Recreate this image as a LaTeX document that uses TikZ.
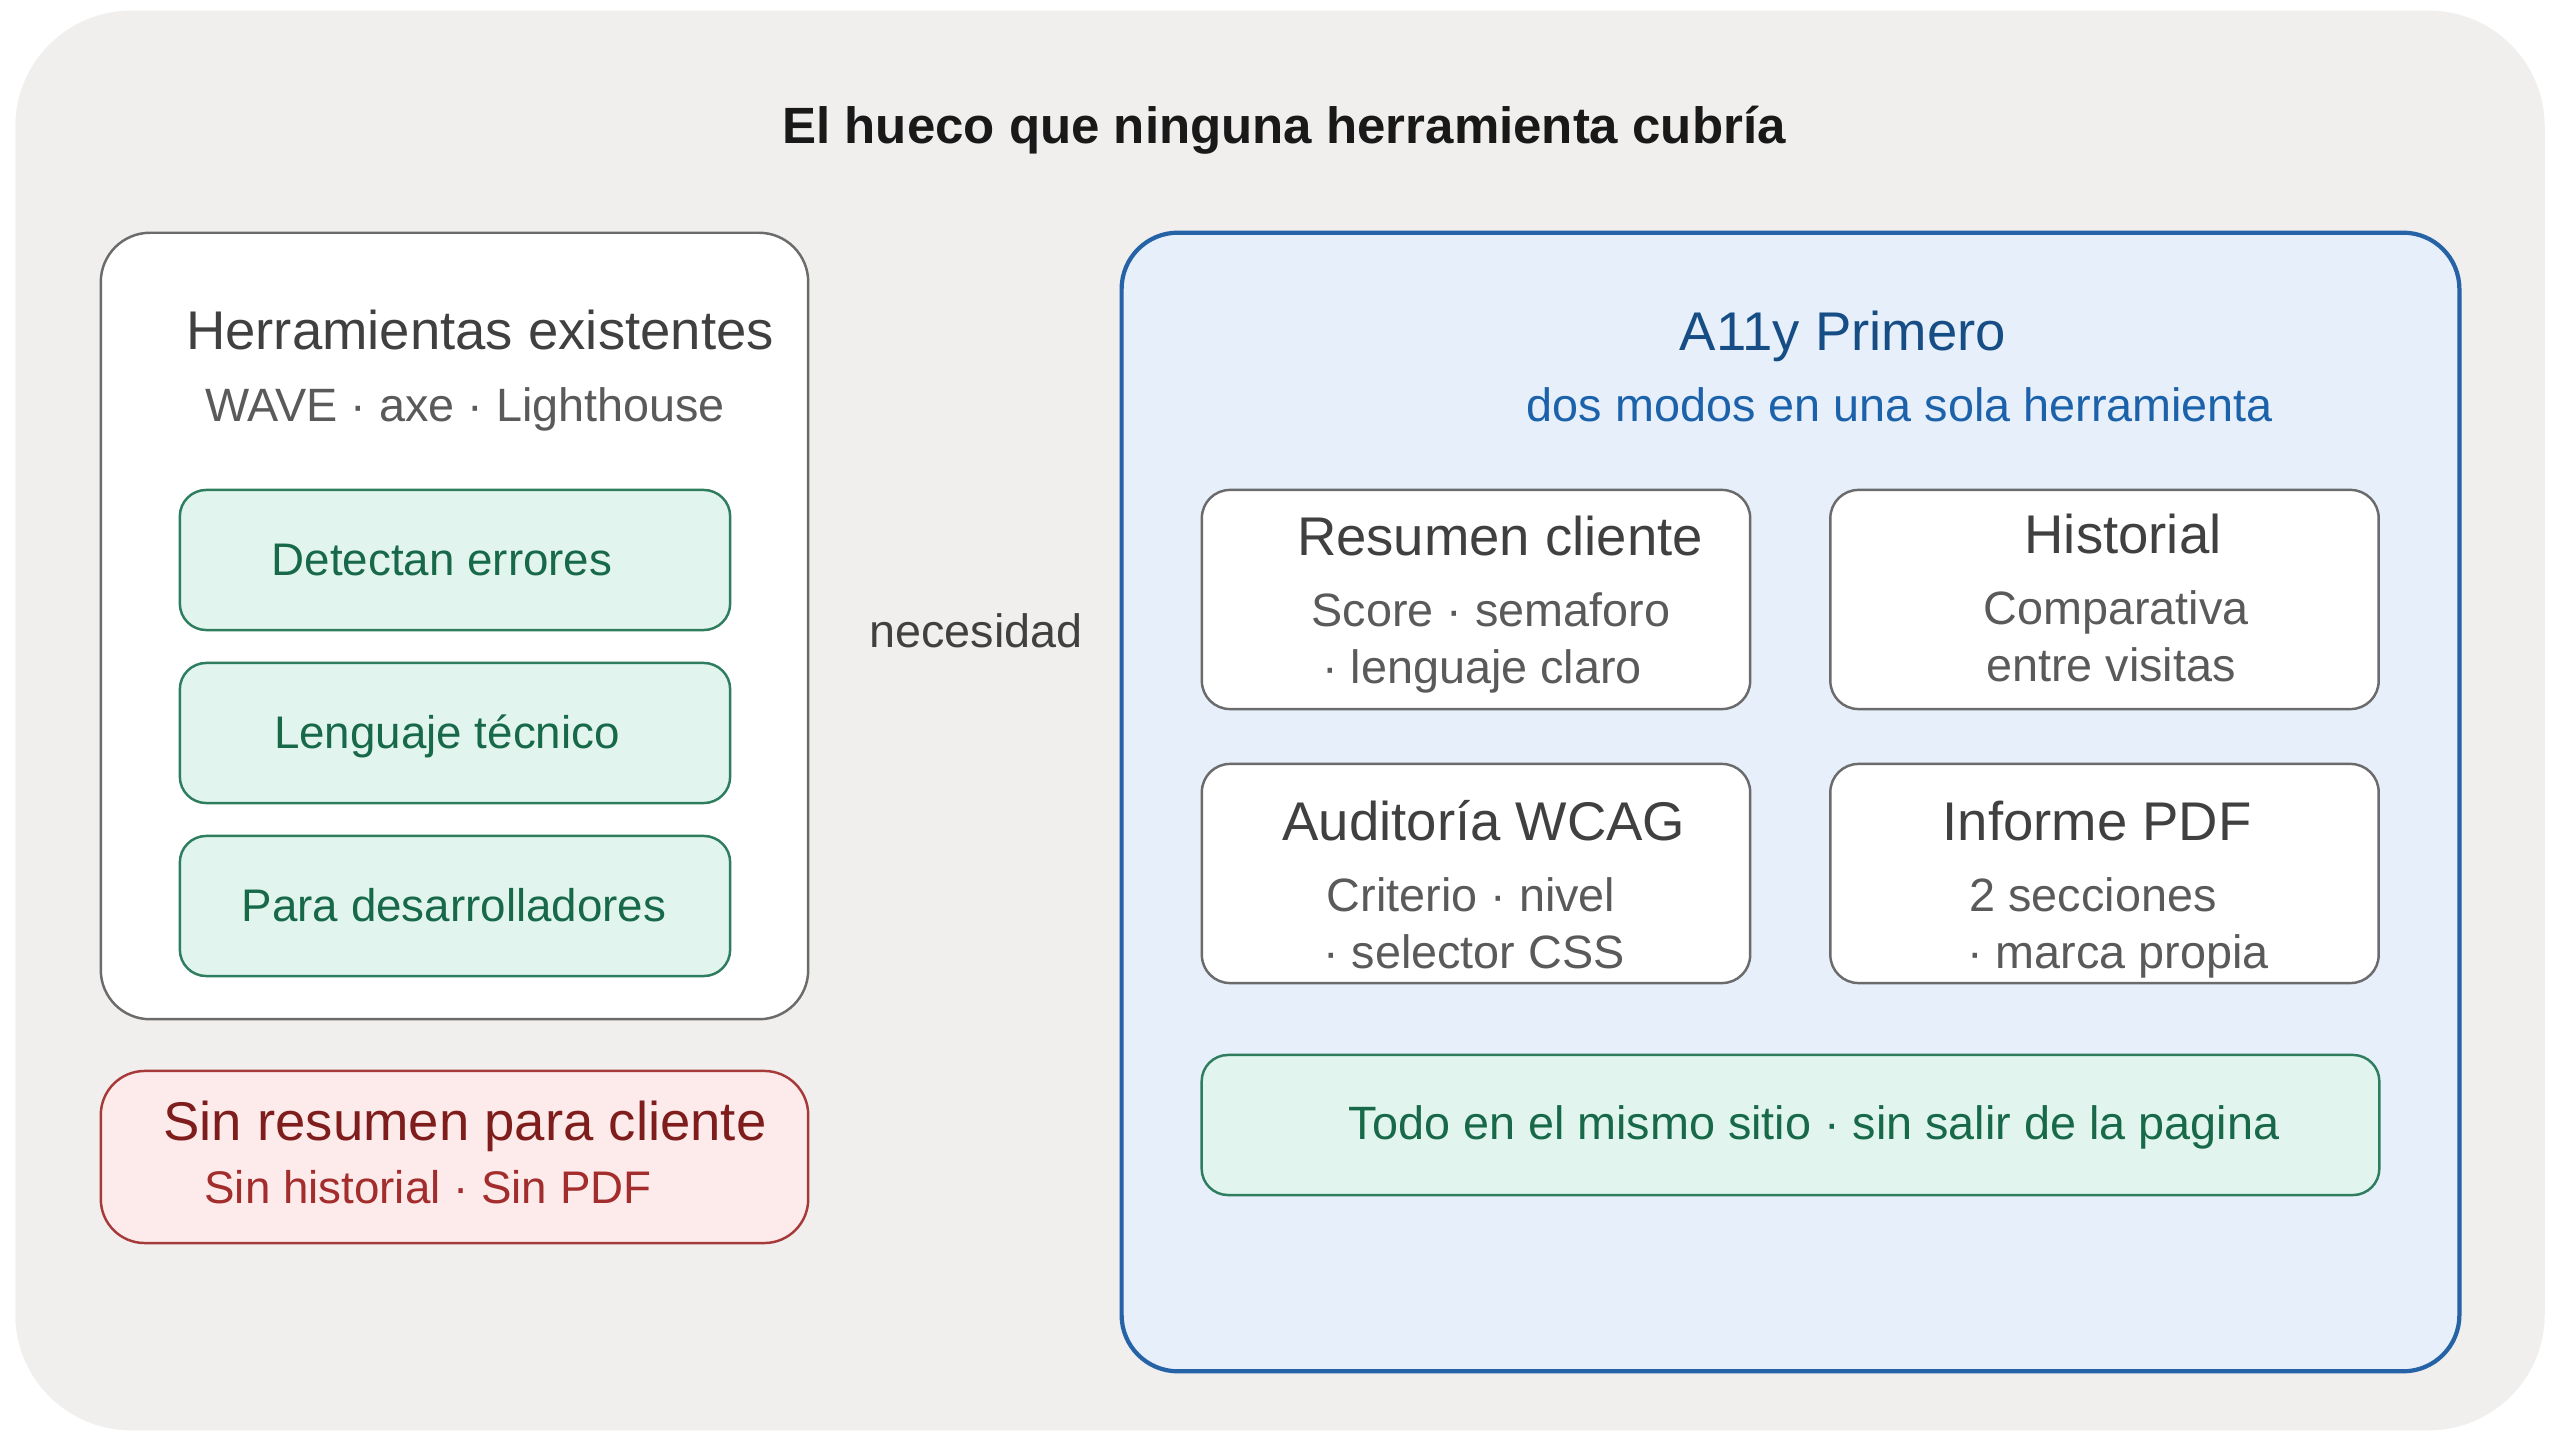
\documentclass[tikz,border=0pt]{standalone}
\usepackage{fontspec}
\setmainfont{Liberation Sans}
\definecolor{bgc}{HTML}{F0EFEE}
\definecolor{graybd}{HTML}{6B6B6B}
\definecolor{headgray}{HTML}{404040}
\definecolor{subgray}{HTML}{5A5A5A}
\definecolor{greenfill}{HTML}{E1F5EE}
\definecolor{greenbd}{HTML}{2E7D5E}
\definecolor{greentxt}{HTML}{17694A}
\definecolor{redfill}{HTML}{FCEBEA}
\definecolor{redbd}{HTML}{A63A3A}
\definecolor{redhead}{HTML}{7F1D1D}
\definecolor{redsub}{HTML}{A32D2D}
\definecolor{bluefill}{HTML}{E6EFFA}
\definecolor{bluebd}{HTML}{2563A6}
\definecolor{bluehead}{HTML}{164D85}
\definecolor{bluesub}{HTML}{1B62AA}
\tikzset{
  panel/.style={draw=graybd, line width=0.7pt, fill=white, rounded corners=14pt, inner sep=0pt},
  greenbox/.style={draw=greenbd, line width=0.7pt, fill=greenfill, rounded corners=7.5pt, inner sep=0pt},
  redbox/.style={draw=redbd, line width=0.7pt, fill=redfill, rounded corners=12.5pt, inner sep=0pt},
  bluebox/.style={draw=bluebd, line width=1.2pt, fill=bluefill, rounded corners=16pt, inner sep=0pt},
  card/.style={draw=graybd, line width=0.7pt, fill=white, rounded corners=8pt, inner sep=0pt},
  txt/.style={anchor=mid, inner sep=0pt},
  big/.style={txt, yshift=-3.1pt, font=\fontsize{15.5pt}{18pt}\selectfont},
  small/.style={txt, yshift=-2.2pt, font=\fontsize{13.3pt}{16pt}\selectfont},
}
\begin{document}
\begin{tikzpicture}[x=0.01cm, y=-0.01cm]
\useasboundingbox (0,0) rectangle (2560,1440);
% background
\node[fill=bgc, rounded corners=33pt, minimum width=25.28cm, minimum height=14.19cm, inner sep=0pt] (bg) at (1280,720.5) {};
% title
\node[txt, yshift=-2.8pt, font=\fontsize{14.5pt}{17pt}\selectfont\bfseries, text=black!90] (title) at (1284,124) {El hueco que ninguna herramienta cubría};
% left panel
\node[panel, minimum width=7.07cm, minimum height=7.86cm] (left) at (454.5,626) {};
\node[big, text=headgray] (lefthead) at (480,329) {Herramientas existentes};
\node[small, text=subgray] (leftsub) at (465,404) {WAVE · axe · Lighthouse};
\node[greenbox, minimum width=5.50cm, minimum height=1.40cm] (g1) at (455,560) {};
\node[greenbox, minimum width=5.50cm, minimum height=1.40cm] (g2) at (455,733) {};
\node[greenbox, minimum width=5.50cm, minimum height=1.40cm] (g3) at (455,906) {};
\node[small, font=\fontsize{13pt}{16pt}\selectfont, text=greentxt] (g1t) at (442,558) {Detectan errores};
\node[small, font=\fontsize{13pt}{16pt}\selectfont, text=greentxt] (g2t) at (447,731) {Lenguaje técnico};
\node[small, font=\fontsize{13pt}{16pt}\selectfont, text=greentxt] (g3t) at (454,904) {Para desarrolladores};
% red box
\node[redbox, minimum width=7.07cm, minimum height=1.72cm] (red) at (454.5,1157) {};
\node[big, text=redhead] (redhead) at (465,1120) {Sin resumen para cliente};
\node[small, font=\fontsize{13pt}{16pt}\selectfont, text=redsub] (redsub) at (428,1186) {Sin historial · Sin PDF};
% middle label
\node[small, text=headgray] (nec) at (976,630) {necesidad};
% right panel
\node[bluebox, minimum width=13.37cm, minimum height=11.38cm] (right) at (1790.5,802) {};
\node[big, text=bluehead] (righthead) at (1843,330) {A11y Primero};
\node[small, text=bluesub] (rightsub) at (1900,404) {dos modos en una sola herramienta};
% cards
\node[card, minimum width=5.48cm, minimum height=2.19cm] (c1) at (1476,599.5) {};
\node[card, minimum width=5.48cm, minimum height=2.19cm] (c2) at (2104.5,599.5) {};
\node[card, minimum width=5.48cm, minimum height=2.19cm] (c3) at (1476,873.5) {};
\node[card, minimum width=5.48cm, minimum height=2.19cm] (c4) at (2104.5,873.5) {};
\node[big, text=headgray] (c1t) at (1500,535) {Resumen cliente};
\node[small, text=subgray] (c1a) at (1491,609) {Score · semaforo};
\node[small, text=subgray] (c1b) at (1482,666) {· lenguaje claro};
\node[big, text=headgray] (c2t) at (2123,533) {Historial};
\node[small, text=subgray] (c2a) at (2116,607) {Comparativa};
\node[small, text=subgray] (c2b) at (2111,664) {entre visitas};
\node[big, text=headgray] (c3t) at (1484,820) {Auditoría WCAG};
\node[small, text=subgray] (c3a) at (1471,894) {Criterio · nivel};
\node[small, text=subgray] (c3b) at (1474,951) {· selector CSS};
\node[big, text=headgray] (c4t) at (2097,820) {Informe PDF};
\node[small, text=subgray] (c4a) at (2093,894) {2 secciones};
\node[small, text=subgray] (c4b) at (2118,951) {· marca propia};
% bottom bar
\node[greenbox, minimum width=11.77cm, minimum height=1.40cm] (bar) at (1790.5,1125) {};
\node[small, text=greentxt] (bart) at (1814,1122) {Todo en el mismo sitio · sin salir de la pagina};
\end{tikzpicture}
\end{document}
